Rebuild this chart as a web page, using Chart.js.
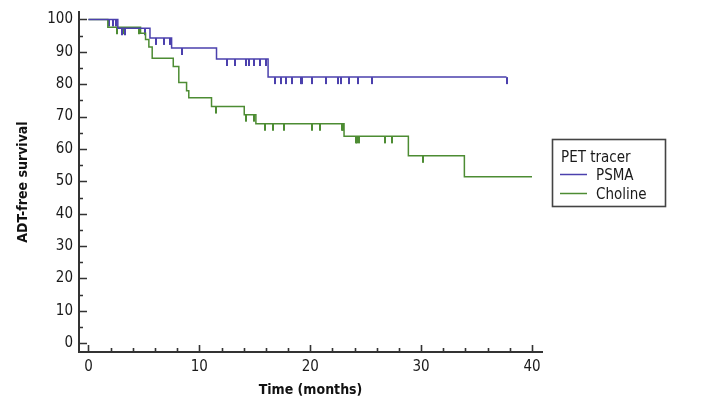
<!DOCTYPE html>
<html><head><meta charset="utf-8">
<script src="https://cdn.jsdelivr.net/npm/chart.js@4/dist/chart.umd.min.js"></script>
<style>html,body{margin:0;padding:0;background:#fff}</style>
</head><body>
<canvas id="c" width="704" height="408" style="width:704px;height:408px;display:block"></canvas>
<script>
// ---- data (time in months, survival in %) ----
const psmaTimes    = [0, 2.65, 5.55, 7.5, 11.55, 16.2, 37.7];
const psmaSurvival = [100, 97.3, 94.3, 91.2, 87.8, 82.2, 82.2];
const psmaCensored = [1.9, 2.2, 2.45, 3.0, 3.3, 5.1, 6.1, 6.8, 7.4, 8.4, 12.5, 13.2, 14.2, 14.5, 14.9, 15.5, 16.0,
                      16.85, 17.4, 17.8, 18.35, 19.15, 19.3, 20.2, 21.4, 22.5, 22.8, 23.5, 24.3, 25.6, 37.7];
const cholineTimes    = [0, 1.75, 4.7, 5.15, 5.45, 5.75, 7.65, 8.15, 8.85, 9.05, 11.1, 14.05, 15.1, 23.05, 28.85, 33.9, 40.0];
const cholineSurvival = [100, 97.6, 95.7, 93.8, 91.5, 88.0, 85.5, 80.5, 78.0, 75.8, 73.1, 70.6, 67.8, 63.9, 57.9, 51.4, 51.4];
const cholineCensored = [2.6, 3.2, 4.55, 11.5, 14.2, 14.9, 15.95, 16.6, 17.6, 20.15, 20.85, 22.9, 23.0,
                         24.1, 24.25, 24.4, 26.7, 27.35, 30.2];
const seriesNames = ['PSMA', 'Choline'];
const legendTitle = 'PET tracer';
const xTickValues = [0, 10, 20, 30, 40];
const yTickValues = [0, 10, 20, 30, 40, 50, 60, 70, 80, 90, 100];
const xTitle = 'Time (months)';
const yTitle = 'ADT-free survival';

// ---- styling ----
const BLUE = '#4b40ad';
const GREEN = '#4d8c33';
const AXIS = '#333333';
const FONT = "'DejaVu Sans Condensed', 'DejaVu Sans', sans-serif";

const survAt = (times, surv, t) => {
  let s = surv[0];
  for (let i = 0; i < times.length; i++) if (times[i] <= t + 1e-9) s = surv[i];
  return s;
};
const toPts = (times, surv) => times.map((t, i) => ({x: t, y: surv[i]}));
const censorPts = (cens, times, surv) => cens.map(t => ({x: t, y: survAt(times, surv, t)}));

function tickMark(color) {
  const c = document.createElement('canvas');
  c.width = 2; c.height = 16;
  const g = c.getContext('2d');
  g.fillStyle = color;
  g.fillRect(0, 8, 2, 7);
  return c;
}

const minorTicksPlugin = {
  id: 'minorTicks',
  afterDatasetsDraw(chart) {
    const {ctx, chartArea: a, scales: {x, y}} = chart;
    ctx.save();
    ctx.strokeStyle = AXIS;
    ctx.lineWidth = 1.6;
    ctx.beginPath();
    for (let v = 0; v <= 40; v += 2) {
      const px = Math.round(x.getPixelForValue(v)) + 0.5;
      const len = v % 10 === 0 ? 7 : 4;
      ctx.moveTo(px, a.bottom); ctx.lineTo(px, a.bottom - len);
    }
    for (let v = 0; v <= 100; v += 5) {
      const py = Math.round(y.getPixelForValue(v)) + 0.5;
      const len = v % 10 === 0 ? 8 : 4;
      ctx.moveTo(a.left, py); ctx.lineTo(a.left + len, py);
    }
    ctx.stroke();
    ctx.restore();
  }
};

const boxLegendPlugin = {
  id: 'boxLegend',
  afterDraw(chart) {
    const {ctx} = chart;
    ctx.save();
    ctx.strokeStyle = '#444';
    ctx.lineWidth = 1.6;
    ctx.strokeRect(552.5, 139.5, 113, 67);
    ctx.fillStyle = '#1a1a1a';
    ctx.font = '15px ' + FONT;
    ctx.textBaseline = 'alphabetic';
    ctx.textAlign = 'left';
    ctx.fillText(legendTitle, 561, 161.5);
    const rows = [{y: 174.5, base: 180}, {y: 193.5, base: 199}];
    chart.data.datasets.slice(0, 2).forEach((ds, i) => {
      ctx.strokeStyle = ds.borderColor;
      ctx.lineWidth = 1.5;
      ctx.beginPath();
      ctx.moveTo(560, rows[i].y); ctx.lineTo(587, rows[i].y);
      ctx.stroke();
      ctx.fillText(ds.label, 596, rows[i].base);
    });
    ctx.restore();
  }
};

new Chart(document.getElementById('c'), {
  type: 'scatter',
  data: {
    datasets: [
      {label: seriesNames[0], data: toPts(psmaTimes, psmaSurvival), showLine: true, stepped: true,
       borderColor: BLUE, borderWidth: 1.5, pointRadius: 0, fill: false},
      {label: seriesNames[1], data: toPts(cholineTimes, cholineSurvival), showLine: true, stepped: true,
       borderColor: GREEN, borderWidth: 1.5, pointRadius: 0, fill: false},
      {label: seriesNames[0] + ' censored', data: censorPts(psmaCensored, psmaTimes, psmaSurvival), showLine: false,
       pointStyle: tickMark(BLUE), pointRadius: 4, borderColor: BLUE},
      {label: seriesNames[1] + ' censored', data: censorPts(cholineCensored, cholineTimes, cholineSurvival), showLine: false,
       pointStyle: tickMark(GREEN), pointRadius: 4, borderColor: GREEN}
    ]
  },
  options: {
    responsive: false,
    animation: false,
    devicePixelRatio: 1,
    layout: {padding: {top: 12, right: 162, left: 0, bottom: 0}},
    plugins: {legend: {display: false}, tooltip: {enabled: false}},
    scales: {
      x: {
        type: 'linear', min: -0.85, max: 40.9,
        grid: {display: false, drawTicks: false},
        border: {display: true, color: AXIS, width: 2},
        afterBuildTicks: s => { s.ticks = xTickValues.map(v => ({value: v})); },
        afterFit: s => { s.height = 56; s.paddingLeft = 0; s.paddingRight = 0; },
        ticks: {color: '#1a1a1a', font: {family: FONT, size: 15}, padding: 6, maxRotation: 0, autoSkip: false},
        title: {display: true, text: xTitle, color: '#111', font: {family: FONT, size: 14, weight: 'bold'},
                padding: {top: 0, bottom: 9}}
      },
      y: {
        type: 'linear', min: -2.7, max: 102.3,
        grid: {display: false, drawTicks: false},
        border: {display: true, color: AXIS, width: 2},
        afterBuildTicks: s => { s.ticks = yTickValues.map(v => ({value: v})); },
        afterFit: s => { s.width = 79; s.paddingTop = 0; s.paddingBottom = 0; },
        ticks: {color: '#1a1a1a', font: {family: FONT, size: 15}, padding: 6, autoSkip: false},
        title: {display: true, text: yTitle, color: '#111', font: {family: FONT, size: 14, weight: 'bold'},
                padding: {top: 15, bottom: 0}}
      }
    }
  },
  plugins: [minorTicksPlugin, boxLegendPlugin]
});
</script>
</body></html>
